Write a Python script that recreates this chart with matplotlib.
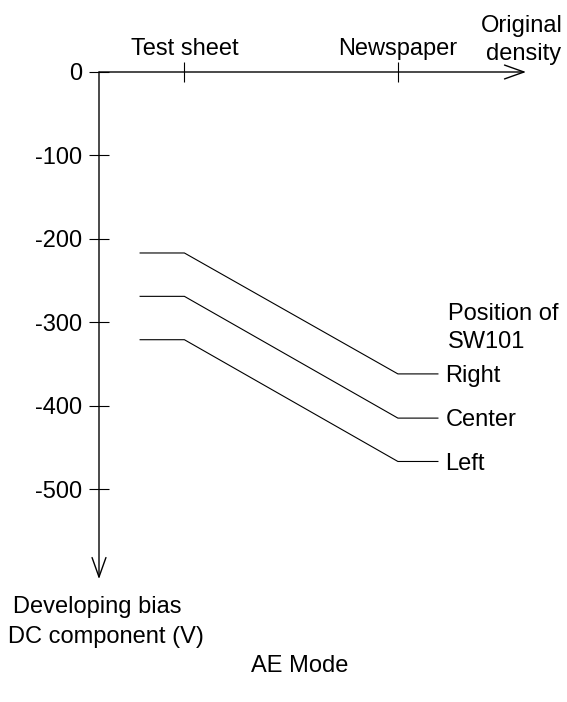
import matplotlib
matplotlib.use("Agg")
import matplotlib.pyplot as plt

plt.rcParams['font.family'] = ['Liberation Sans', 'DejaVu Sans']

# density axis positions (arbitrary units, 0 = origin, 1 = arrow tip)
density_x = [0.095, 0.2, 0.7, 0.795]
tick_pos = [0.2, 0.7]
tick_labels = ['Test sheet', 'Newspaper']

# developing bias DC component (V) for each SW101 position
bias_right = [-217, -217, -362, -362]
bias_center = [-269, -269, -415, -415]
bias_left = [-321, -321, -467, -467]
series_names = ['Right', 'Center', 'Left']

y_ticks = [0, -100, -200, -300, -400, -500]

W, H = 567, 702
FS = 17

fig = plt.figure(figsize=(W / 100, H / 100), dpi=100)
fig.patch.set_facecolor('white')

# axes placed so that x=0 -> px 99, x=1 -> px 526, y=0 -> px 72, y=-600 -> px 572
ax = fig.add_axes([99 / W, 1 - 572.4 / H, 427 / W, 500.4 / H])
ax.set_xlim(0, 1)
ax.set_ylim(-600, 0)
for spine in ax.spines.values():
    spine.set_visible(False)
ax.patch.set_alpha(0)

# axis lines with open arrow heads
arrow = dict(arrowstyle='->,head_length=0.7,head_width=0.25', mutation_scale=20,
             lw=1.0, color='black', shrinkA=0, shrinkB=0)
ax.annotate('', xy=(1.0, 0), xytext=(0, 0), arrowprops=arrow, annotation_clip=False)
ax.annotate('', xy=(0, -608), xytext=(0, 0), arrowprops=arrow, annotation_clip=False)

# ticks
ax.xaxis.tick_top()
ax.set_xticks(tick_pos, tick_labels)
ax.set_yticks(y_ticks, [str(v) for v in y_ticks])
ax.tick_params(axis='both', direction='inout', length=13.7, width=0.8, color='black',
               labelsize=FS)
ax.tick_params(axis='x', pad=2)
ax.tick_params(axis='y', pad=5.4)

# series
for ys, name in zip([bias_right, bias_center, bias_left], series_names):
    ax.plot(density_x, ys, color='black', lw=0.8, solid_capstyle='butt')
    ax.annotate(name, xy=(density_x[-1], ys[-1]), xytext=(5, -6), textcoords='offset points',
                ha='left', va='baseline', fontsize=FS)


def ftext(x, y, s, **kw):
    fig.text(x / W, 1 - y / H, s, fontsize=FS, va='baseline', **kw)


ftext(448, 320, 'Position of', ha='left')
ftext(448, 348, 'SW101', ha='left')
ftext(522, 32, 'Original', ha='center')
ftext(524, 60, 'density', ha='center')
ftext(97, 613, 'Developing bias', ha='center')
ftext(106, 643, 'DC component (V)', ha='center')
ftext(300, 672, 'AE Mode', ha='center')

fig.savefig('out.png', dpi=100, facecolor='white')
